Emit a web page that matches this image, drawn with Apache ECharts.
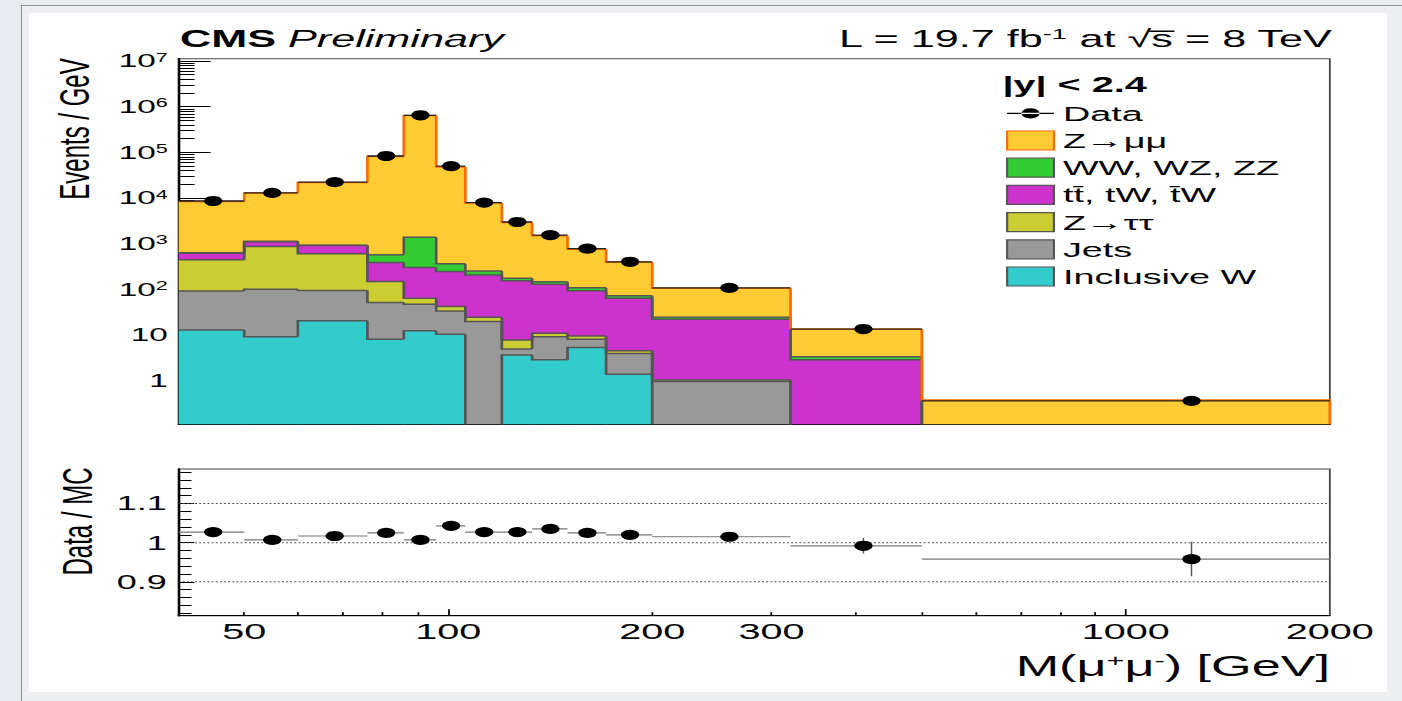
<!DOCTYPE html>
<html><head><meta charset="utf-8">
<script src="https://cdn.jsdelivr.net/npm/echarts@6/dist/echarts.min.js"></script>
<style>
html,body{margin:0;padding:0;width:1402px;height:701px;overflow:hidden;background:#e7eaee;}
#frame{position:absolute;left:21px;top:5px;width:1400px;height:720px;border-left:1px solid #8c8c8c;border-top:1px solid #8c8c8c;background:#eceef1;}
#paper{position:absolute;left:29px;top:13px;width:1358px;height:679px;background:#fff;}
#chart{position:absolute;left:0;top:0;width:779px;height:701px;transform-origin:0 0;transform:scaleX(1.79974);}
</style></head><body>
<div id="frame"></div><div id="paper"></div><div id="chart"></div>
<script>
// ---------------- data ----------------
const binEdges = [40, 50, 60, 76, 86, 96, 106, 120, 133, 150, 171, 200, 320, 500, 2000];
// per-GeV contributions of each process, per bin (stack order bottom -> top)
const inclusiveW = [13, 9.3, 20.9, 8.2, 12.6, 10.5, 0, 3.7, 2.9, 5.4, 1.4, 0, 0, 0];
const jets       = [80, 92.7, 74, 43.6, 35.2, 23.6, 19.9, 1.3, 6.4, 2.8, 2.6, 0.97, 0, 0];
const zTauTau    = [353, 771, 509, 97.5, 16.9, 8.3, 4.9, 2.9, 1.8, 1.5, 0.6, 0.08, 0, 0];
const ttbarTW    = [173, 249, 314, 240, 238, 205, 184, 147, 120, 85, 60, 21.4, 2.9, 0];
const diboson    = [16, 10, 10, 185, 1097, 118, 47, 22, 18, 15, 9, 2.4, 0.5, 0];
const zMuMu      = [7800, 11748, 21050, 80926, 642600, 47435, 7524, 2748, 1347, 655, 323, 82, 10.4, 0.384];
const dataEvents = [8640, 12980, 22380, 83460, 648000, 49900, 7990, 3004, 1548, 784, 405, 108.6, 13.7, 0.368];
const ratioValues = [1.027, 1.007, 1.017, 1.025, 1.007, 1.043, 1.027, 1.027, 1.035, 1.025, 1.020, 1.015, 0.992, 0.958];
const ratioErrors = [0.003, 0.003, 0.002, 0.002, 0.001, 0.002, 0.003, 0.004, 0.005, 0.006, 0.007, 0.008, 0.02, 0.044];

const processNames = ['Inclusive W', 'Jets', 'Z\u2192\u03C4\u03C4', 't\u0074\u0304, tW, t\u0304W', 'WW, WZ, ZZ', 'Z\u2192\u03BC\u03BC'];
const processFill  = ['#33cccc', '#999999', '#cccc33', '#cc33cc', '#33cc33', '#ffcb33'];
const processLine  = ['#555555', '#555555', '#555555', '#555555', '#555555', '#ff6a00'];
const processVals  = [inclusiveW, jets, zTauTau, ttbarTW, diboson, zMuMu];
const legendOrder  = ['Data', 'Z\u2192\u03BC\u03BC', 'WW, WZ, ZZ', 't\u0074\u0304, tW, t\u0304W', 'Z\u2192\u03C4\u03C4', 'Jets', 'Inclusive W'];

// axis ticks / labels
const xMin = 40, xMax = 2000;
const yMin = 0.113, yMax = 1.12e7;
const rMin = 0.8135, rMax = 1.188;
const xMajorTicks = [100, 1000];
const xMinorTicks = [50, 60, 70, 80, 90, 200, 300, 400, 500, 600, 700, 800, 900];
const xLabelValues = [50, 100, 200, 300, 1000, 2000];
const xLabelTexts  = ['50', '100', '200', '300', '1000', '2000'];
const yMajorTicks = [1, 10, 100, 1e3, 1e4, 1e5, 1e6, 1e7];
const yMajorLabels = ['{n|1}', '{n|10}', '{n|10}{e|2}', '{n|10}{e|3}', '{n|10}{e|4}', '{n|10}{e|5}', '{n|10}{e|6}', '{n|10}{e|7}'];
const yMinorTicks = [];
for (let e = -1; e <= 6; e++) for (let m = 2; m <= 9; m++) { const v = m * Math.pow(10, e); if (v > yMin && v < yMax) yMinorTicks.push(v); }
const rMajorTicks = [0.9, 1, 1.1];
const rMajorLabels = ['0.9', '1', '1.1'];
const rMinorTicks = [0.82, 0.84, 0.86, 0.88, 0.92, 0.94, 0.96, 0.98, 1.02, 1.04, 1.06, 1.08, 1.12, 1.14, 1.16, 1.18];
const refLines = [0.9, 1, 1.1];

const FONT = '"Liberation Sans", Arial, Helvetica, sans-serif';
const FLOOR = 1e-3;
const nb = binEdges.length - 1;

// ---------------- build stacked histogram data ----------------
const histSeries = [];
let cum = new Array(nb).fill(0);
processVals.forEach((vals, k) => {
  const tops = vals.map((v, i) => cum[i] + v);
  const data = [];
  for (let i = 0; i < nb; i++) {
    data.push([binEdges[i], binEdges[i + 1], cum[i], tops[i], i > 0 ? tops[i - 1] : -1, i === nb - 1 ? 1 : 0]);
  }
  const fill = processFill[k], line = processLine[k];
  histSeries.push({
    type: 'custom', name: processNames[k], xAxisIndex: 0, yAxisIndex: 0, clip: true, z: 2, silent: true,
    itemStyle: { color: fill, borderColor: line, borderWidth: 1 },
    encode: { x: [0, 1], y: [3] },
    data: data,
    renderItem: function (params, api) {
      const lo = api.value(0), hi = api.value(1);
      const base = Math.max(api.value(2), FLOOR), top = Math.max(api.value(3), FLOOR);
      const first = api.value(4) < 0;
      const prev = Math.max(api.value(4), FLOOR);
      const last = api.value(5) === 1;
      const pLB = api.coord([lo, base]), pHT = api.coord([hi, top]);
      const pLT = api.coord([lo, top]), pPrev = api.coord([lo, prev]);
      const children = [];
      if (api.value(3) > api.value(2)) {
        children.push({ type: 'rect', z2: 1,
          shape: { x: pLB[0], y: pHT[1], width: pHT[0] - pLB[0] + (last ? 0 : 0.6), height: pLB[1] - pHT[1] },
          style: { fill: fill } });
      }
      const pts = first ? [[pLT[0], pLT[1]], [pHT[0], pHT[1]]] : [[pLT[0], pPrev[1]], [pLT[0], pLT[1]], [pHT[0], pHT[1]]];
      if (last) pts.push([pHT[0], api.coord([hi, FLOOR])[1]]);
      children.push({ type: 'polyline', z2: 5, shape: { points: pts }, style: { stroke: line, lineWidth: 1.5, fill: null } });
      return { type: 'group', children: children };
    }
  });
  cum = tops;
});

const dataItems = [], ratioItems = [];
for (let i = 0; i < nb; i++) {
  const lo = binEdges[i], hi = binEdges[i + 1];
  dataItems.push([lo, hi, (lo + hi) / 2, dataEvents[i]]);
  ratioItems.push([lo, hi, (lo + hi) / 2, ratioValues[i], ratioErrors[i]]);
}

const dataIcon = 'path://M0,0h0.01v0.01h-0.01Z M25.99,18.99h0.01v0.01h-0.01Z M0,8.9h26v1.2h-26Z M7.9,9.5a5.1,5.1 0 1,0 10.2,0a5.1,5.1 0 1,0 -10.2,0Z';

function nearestLabel(v, vals, texts) {
  let best = 0, bd = Infinity;
  vals.forEach((t, i) => { const d = Math.abs(Math.log(v) - Math.log(t)); if (d < bd) { bd = d; best = i; } });
  return texts[best];
}

const xBase = { type: 'log', logBase: 10, min: xMin, max: xMax, position: 'bottom', splitLine: { show: false },
  axisLine: { show: true, lineStyle: { color: '#000', width: 1 } } };
const tickStyle = { color: '#000', width: 1 };

const option = {
  animation: false,
  backgroundColor: 'transparent',
  grid: [
    { left: 99.2, width: 639.7, top: 58.7, height: 365.6, show: true, borderColor: '#444', borderWidth: 1, backgroundColor: 'transparent', containLabel: false, outerBoundsMode: 'none' },
    { left: 99.2, width: 639.7, top: 469, height: 146.7, show: true, borderColor: '#444', borderWidth: 1, backgroundColor: 'transparent', containLabel: false, outerBoundsMode: 'none' }
  ],
  xAxis: [
    Object.assign({}, xBase, { gridIndex: 0, axisTick: { inside: true, length: 6, customValues: xMinorTicks, lineStyle: tickStyle }, axisLabel: { show: false } }),
    Object.assign({}, xBase, { gridIndex: 0, axisTick: { inside: true, length: 11.5, customValues: xMajorTicks, lineStyle: tickStyle }, axisLabel: { show: false } }),
    Object.assign({}, xBase, { gridIndex: 1, axisTick: { inside: true, length: 3.5, customValues: xMinorTicks, lineStyle: tickStyle }, axisLabel: { show: false } }),
    Object.assign({}, xBase, { gridIndex: 1, axisTick: { inside: true, length: 6.5, customValues: xMajorTicks, lineStyle: tickStyle },
      axisLabel: { show: true, customValues: xLabelValues, margin: 4.5, fontSize: 22, fontFamily: FONT, color: '#000',
        formatter: function (v) { return nearestLabel(v, xLabelValues, xLabelTexts); } } })
  ],
  yAxis: [
    { gridIndex: 0, type: 'log', logBase: 10, min: yMin, max: yMax, position: 'left', splitLine: { show: false },
      axisLine: { show: true, lineStyle: { color: '#000', width: 1.2 } },
      axisTick: { inside: true, length: 8.9, customValues: yMinorTicks, lineStyle: tickStyle }, axisLabel: { show: false } },
    { gridIndex: 0, type: 'log', logBase: 10, min: yMin, max: yMax, position: 'left', splitLine: { show: false },
      axisLine: { show: true, lineStyle: { color: '#000', width: 1.2 } },
      axisTick: { inside: true, length: 17.8, customValues: yMajorTicks, lineStyle: tickStyle },
      axisLabel: { show: true, customValues: yMajorTicks, margin: 6, fontFamily: FONT, color: '#000',
        formatter: function (v) { return nearestLabel(v, yMajorTicks, yMajorLabels); },
        rich: { n: { fontSize: 18.5, fontFamily: FONT, color: '#000' }, e: { fontSize: 12, fontFamily: FONT, color: '#000', verticalAlign: 'top' } } } },
    { gridIndex: 1, type: 'value', min: rMin, max: rMax, position: 'left', splitLine: { show: false },
      axisLine: { show: true, lineStyle: { color: '#000', width: 1.2 } },
      axisTick: { inside: true, length: 7.2, customValues: rMinorTicks, lineStyle: tickStyle }, axisLabel: { show: false } },
    { gridIndex: 1, type: 'value', min: rMin, max: rMax, position: 'left', splitLine: { show: false },
      axisLine: { show: true, lineStyle: { color: '#000', width: 1.2 } },
      axisTick: { inside: true, length: 8.7, customValues: rMajorTicks, lineStyle: tickStyle },
      axisLabel: { show: true, customValues: rMajorTicks, margin: 6.5, fontSize: 20, fontFamily: FONT, color: '#000',
        formatter: function (v) { let b = 0, bd = Infinity; rMajorTicks.forEach((t, i) => { if (Math.abs(t - v) < bd) { bd = Math.abs(t - v); b = i; } }); return rMajorLabels[b]; } } }
  ],
  legend: {
    orient: 'vertical', left: 554, top: 97.8, padding: 5, itemWidth: 26, itemHeight: 19, itemGap: 6.2, selectedMode: false,
    textStyle: { fontSize: 21, fontFamily: FONT, color: '#000' },
    data: legendOrder.map(function (n) {
      if (n === 'Data') return { name: n, icon: dataIcon, itemStyle: { color: '#000', borderWidth: 0 } };
      const k = processNames.indexOf(n);
      return { name: n, icon: 'rect', itemStyle: { color: processFill[k], borderColor: processLine[k], borderWidth: 1.2 } };
    })
  },
  graphic: { elements: [
    { type: 'text', x: 100, y: 38.7, silent: true, style: { text: '{b|CMS} {i|Preliminary}', fontSize: 24, fontFamily: FONT, fill: '#000', align: 'left', verticalAlign: 'middle',
      rich: { b: { fontWeight: 'bold', fontSize: 24, fontFamily: FONT, fill: '#000' }, i: { fontStyle: 'italic', fontSize: 24, fontFamily: FONT, fill: '#000' } } } },
    { type: 'text', x: 740, y: 38.5, silent: true, style: { text: 'L = 19.7 fb{s|-1} at \u221As\u0305 = 8 TeV', fontSize: 24, fontFamily: FONT, fill: '#000', align: 'right', verticalAlign: 'middle',
      rich: { s: { fontSize: 15, fontFamily: FONT, fill: '#000', verticalAlign: 'top' } } } },
    { type: 'text', x: 557, y: 84, silent: true, style: { text: '|y| < 2.4', fontSize: 22, fontWeight: 'bold', fontFamily: FONT, fill: '#000', align: 'left', verticalAlign: 'middle' } },
    { type: 'text', x: 739, y: 666.5, silent: true, style: { text: 'M(\u03BC{s|+}\u03BC{s|-}) [GeV]', fontSize: 29, fontFamily: FONT, fill: '#000', align: 'right', verticalAlign: 'middle',
      rich: { s: { fontSize: 17, fontFamily: FONT, fill: '#000', verticalAlign: 'top' } } } },
    { type: 'text', x: 40.6, y: 129, rotation: Math.PI / 2, silent: true, style: { text: 'Events / GeV', fontSize: 24, fontFamily: FONT, fill: '#000', align: 'center', verticalAlign: 'middle' } },
    { type: 'text', x: 42.4, y: 521.5, rotation: Math.PI / 2, silent: true, style: { text: 'Data / MC', fontSize: 24, fontFamily: FONT, fill: '#000', align: 'center', verticalAlign: 'middle' } }
  ] },
  series: histSeries.concat([
    { type: 'custom', name: 'Data', xAxisIndex: 0, yAxisIndex: 0, z: 5, clip: true, silent: true,
      itemStyle: { color: '#000' }, encode: { x: [0, 1], y: [3] }, data: dataItems,
      renderItem: function (params, api) {
        const lo = api.value(0), hi = api.value(1), c = api.value(2), v = api.value(3);
        const a = api.coord([lo, v]), b = api.coord([hi, v]), m = api.coord([c, v]);
        return { type: 'group', children: [
          { type: 'line', z2: 20, shape: { x1: a[0], y1: a[1], x2: b[0], y2: b[1] }, style: { stroke: '#222', lineWidth: 1.3 } },
          { type: 'circle', z2: 21, shape: { cx: m[0], cy: m[1], r: 5.1 }, style: { fill: '#000' } }
        ] };
      } },
    { type: 'custom', name: 'Reference lines', xAxisIndex: 2, yAxisIndex: 2, z: 3, silent: true,
      encode: { y: [0] }, data: refLines.map(function (v) { return [v]; }),
      renderItem: function (params, api) {
        const v = api.value(0);
        const a = api.coord([xMin, v]), b = api.coord([xMax, v]);
        return { type: 'line', shape: { x1: a[0], y1: a[1], x2: b[0], y2: b[1] }, style: { stroke: '#444', lineWidth: 1, lineDash: [1, 1.3] } };
      } },
    { type: 'custom', name: 'Data / MC', xAxisIndex: 2, yAxisIndex: 2, z: 5, clip: true, silent: true,
      itemStyle: { color: '#000' }, encode: { x: [0, 1], y: [3] }, data: ratioItems,
      renderItem: function (params, api) {
        const lo = api.value(0), hi = api.value(1), c = api.value(2), r = api.value(3), e = api.value(4);
        const a = api.coord([lo, r]), b = api.coord([hi, r]), m = api.coord([c, r]);
        const up = api.coord([c, r + e]), dn = api.coord([c, r - e]);
        return { type: 'group', children: [
          { type: 'line', z2: 20, shape: { x1: a[0], y1: a[1], x2: b[0], y2: b[1] }, style: { stroke: '#777', lineWidth: 1.2 } },
          { type: 'line', z2: 20, shape: { x1: m[0], y1: up[1], x2: m[0], y2: dn[1] }, style: { stroke: '#555', lineWidth: 0.8 } },
          { type: 'circle', z2: 21, shape: { cx: m[0], cy: m[1], r: 5.1 }, style: { fill: '#000' } }
        ] };
      } }
  ])
};

const chart = echarts.init(document.getElementById('chart'), null, { renderer: 'svg', width: 779, height: 701 });
chart.setOption(option);
</script>
</body></html>
